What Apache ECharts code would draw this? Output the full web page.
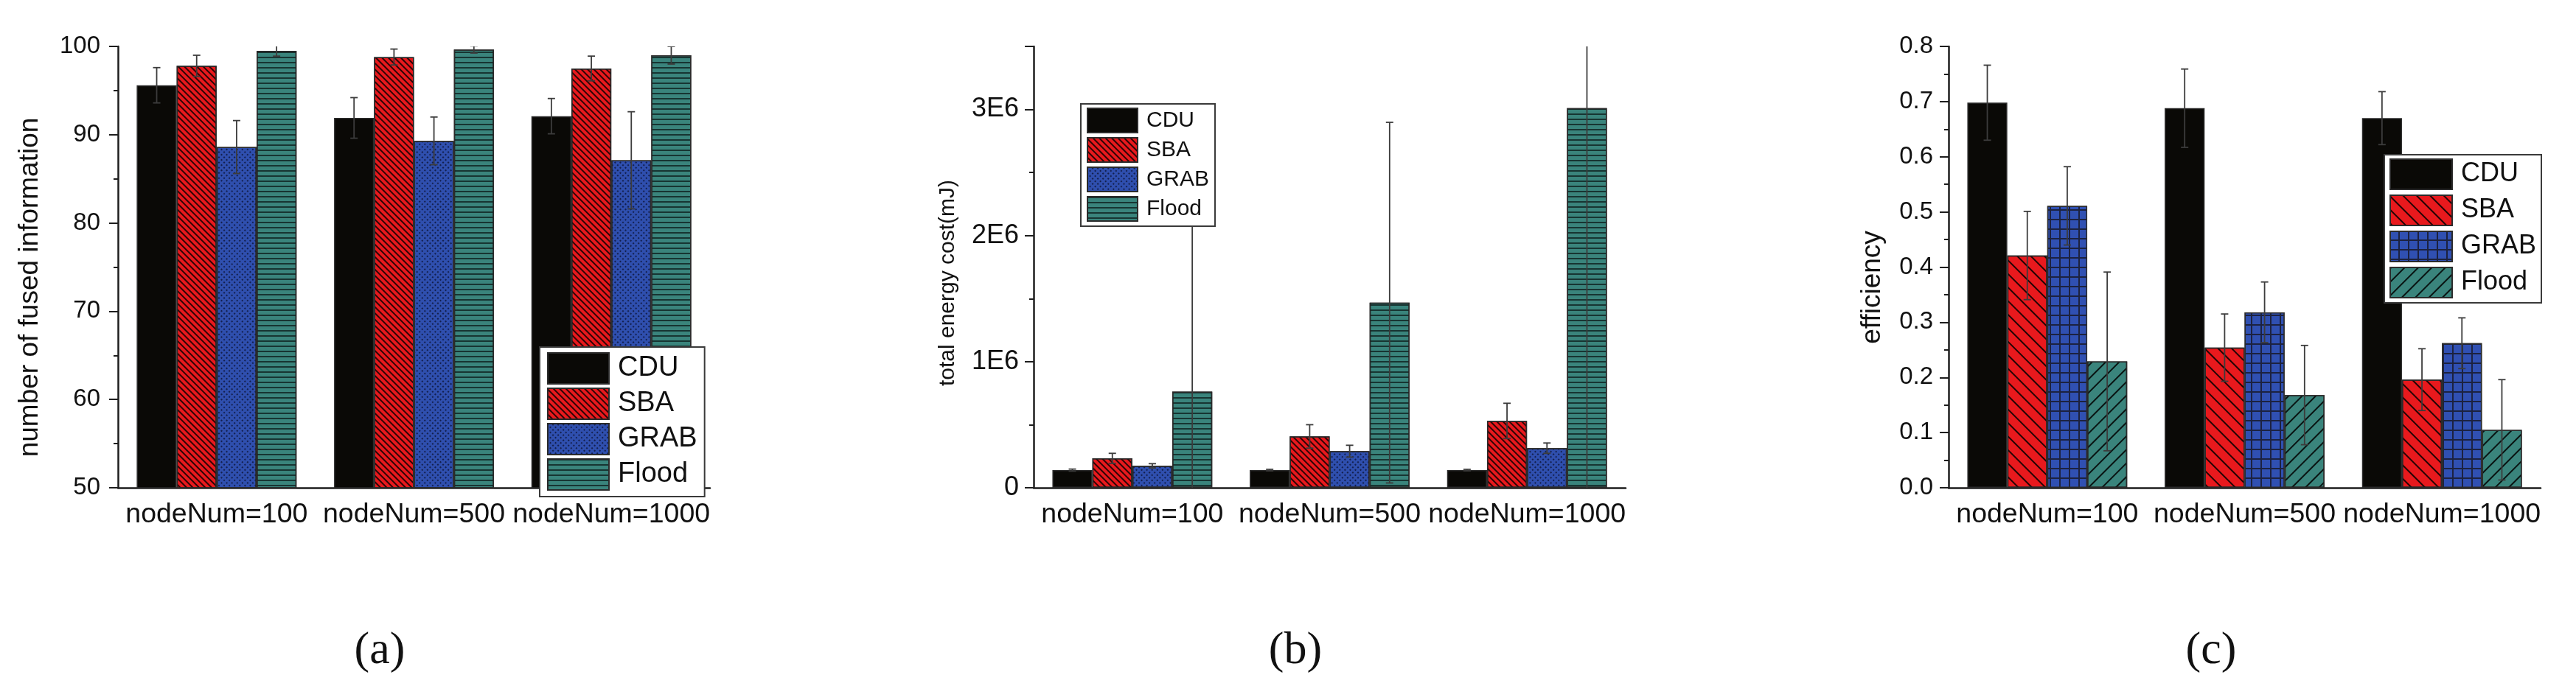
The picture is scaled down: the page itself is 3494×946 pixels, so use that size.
<!DOCTYPE html>
<html lang="en">
<head>
    <meta charset="UTF-8">
    <title>CDU / SBA / GRAB / Flood</title>
    <script src="https://cdn.jsdelivr.net/npm/echarts@6/dist/echarts.min.js"></script>
    <style>
        html, body { margin: 0; padding: 0; background: #fff; }
    </style>
</head>
<body>
    <div id="main" style="width: 3494px; height: 946px;"></div>
    <script>
        // data
        const categories = ['nodeNum=100', 'nodeNum=500', 'nodeNum=1000'];
        const methods = ['CDU', 'SBA', 'GRAB', 'Flood'];

        // (a) number of fused information, rows = methods, cols = categories
        const fusedMean = [[95.6, 91.9, 92.1], [97.8, 98.8, 97.5], [88.6, 89.3, 87.1], [99.5, 99.65, 99.0]];
        const fusedErr = [[2.0, 2.3, 2.0], [1.2, 0.9, 1.4], [3.0, 2.7, 5.5], [0.6, 0.4, 1.0]];

        // (b) total energy cost (mJ)
        const energyMean = [[0.14e6, 0.14e6, 0.14e6], [0.233e6, 0.407e6, 0.53e6], [0.174e6, 0.29e6, 0.314e6], [0.762e6, 1.468e6, 3.01e6]];
        const energyErr = [[0.008e6, 0.006e6, 0.006e6], [0.04e6, 0.093e6, 0.14e6], [0.017e6, 0.047e6, 0.041e6], [1.5e6, 1.43e6, 3.05e6]];

        // (c) efficiency
        const effMean = [[0.698, 0.688, 0.670], [0.421, 0.254, 0.196], [0.511, 0.318, 0.262], [0.229, 0.168, 0.105]];
        const effErr = [[0.068, 0.071, 0.048], [0.08, 0.061, 0.056], [0.071, 0.055, 0.046], [0.162, 0.09, 0.091]];

        const SANS = '"Liberation Sans", Arial, sans-serif';
        const SERIF = '"Liberation Serif", "Times New Roman", serif';
        const colors = ['#0a0906', '#e8191d', '#2f4fae', '#3a847c'];
        const gridLeft = [160, 1402, 2643];
        const CAT_GAP = 0.19;

        // hatch patterns: dense ones for (a)/(b), sparse ones for (c)
        const denseDecals = [
            null,
            { symbol: 'rect', symbolSize: 1, dashArrayX: [1, 0], dashArrayY: [1.5, 3.5], rotation: Math.PI / 4, color: 'rgba(0,0,0,0.8)' },
            { symbol: 'rect', symbolSize: 1, dashArrayX: [2, 2.5], dashArrayY: [2, 2.5], rotation: Math.PI / 4, color: 'rgba(10,15,45,0.75)' },
            { symbol: 'rect', symbolSize: 1, dashArrayX: [1, 0], dashArrayY: [2, 5], rotation: 0, color: 'rgba(0,0,0,0.6)' }
        ];
        const sparseDecals = [
            null,
            { symbol: 'rect', symbolSize: 1, dashArrayX: [1, 0], dashArrayY: [1.6, 11], rotation: Math.PI / 4, color: 'rgba(0,0,0,0.85)' },
            { symbol: 'rect', symbolSize: 1, dashArrayX: [10.5, 1.5], dashArrayY: [10.5, 1.5], rotation: 0, color: '#3050b2' },
            { symbol: 'rect', symbolSize: 1, dashArrayX: [1, 0], dashArrayY: [1.6, 11], rotation: -Math.PI / 4, color: 'rgba(0,0,0,0.85)' }
        ];

        const panels = [
            { key: 'a', mean: fusedMean, err: fusedErr, min: 50, max: 100, interval: 10, decals: denseDecals,
              label: v => String(v), tickFont: 33, margin: 24 },
            { key: 'b', mean: energyMean, err: energyErr, min: 0, max: 3.5e6, interval: 1e6, decals: denseDecals,
              label: v => (v === 0 ? '0' : (v / 1e6) + 'E6'), tickFont: 36, margin: 20 },
            { key: 'c', mean: effMean, err: effErr, min: 0, max: 0.8, interval: 0.1, decals: sparseDecals,
              label: v => v.toFixed(1), tickFont: 33, margin: 21 }
        ];

        const chart = echarts.init(document.getElementById('main'));

        const grids = [], xAxes = [], yAxes = [], series = [], legends = [];
        const axisColor = '#1e1e1e';

        panels.forEach((p, g) => {
            grids.push({ left: gridLeft[g], top: 63, width: 803, height: 599 });

            xAxes.push({
                type: 'category', gridIndex: g, data: categories, position: 'bottom',
                axisLine: { lineStyle: { color: axisColor, width: 2.5 } },
                axisTick: { alignWithLabel: true, length: 12, lineStyle: { color: axisColor, width: 2 } },
                axisLabel: { interval: 0, hideOverlap: false, fontSize: 37.5, fontFamily: SANS, color: '#111', margin: 18 }
            });
            // second axis only for the short ticks on the category boundaries
            xAxes.push({
                type: 'category', gridIndex: g, data: categories, position: 'bottom',
                axisLine: { show: false },
                axisTick: { length: 6, lineStyle: { color: axisColor, width: 2 } },
                axisLabel: { show: false }
            });

            yAxes.push({
                type: 'value', gridIndex: g, min: p.min, max: p.max, interval: p.interval,
                axisLine: { show: true, lineStyle: { color: axisColor, width: 2.5 } },
                axisTick: { show: true, length: 12, lineStyle: { color: axisColor, width: 2 } },
                minorTick: { show: true, splitNumber: 2, length: 6, lineStyle: { color: axisColor, width: 2 } },
                splitLine: { show: false },
                axisLabel: {
                    fontSize: p.tickFont, fontFamily: SANS, color: '#111', margin: p.margin,
                    showMaxLabel: g !== 1, formatter: p.label
                }
            });

            methods.forEach((m, k) => {
                series.push({
                    type: 'bar', name: p.key + ':' + m,
                    xAxisIndex: g * 2, yAxisIndex: g,
                    data: p.mean[k],
                    barGap: '0%', barCategoryGap: (CAT_GAP * 100) + '%',
                    itemStyle: {
                        // GRAB in (c) is a blue grid: dark fill showing through blue cells
                        color: (g === 2 && k === 2) ? '#1c2240' : colors[k],
                        borderColor: '#2b2b2b', borderWidth: 1.5,
                        decal: p.decals[k] || undefined
                    },
                    z: 2
                });
            });

            const errData = [];
            methods.forEach((m, k) => {
                categories.forEach((c, i) => errData.push([i, p.mean[k][i], p.err[k][i], k]));
            });
            series.push({
                type: 'custom', name: p.key + ':err',
                xAxisIndex: g * 2, yAxisIndex: g,
                clip: true, z: 3, silent: true,
                encode: { x: 0, y: 1 },
                data: errData,
                renderItem: function (params, api) {
                    const i = api.value(0), v = api.value(1), e = api.value(2), k = api.value(3);
                    const band = api.size([1, 0])[0];
                    const bw = band * (1 - CAT_GAP) / 4;
                    const cx = api.coord([i, v])[0] + (k - 1.5) * bw;
                    const yTop = api.coord([i, v + e])[1];
                    const yBot = api.coord([i, v - e])[1];
                    const cap = 5;
                    const st = { stroke: '#3c3c3c', lineWidth: 1.8 };
                    return {
                        type: 'group',
                        children: [
                            { type: 'line', shape: { x1: cx, y1: yTop, x2: cx, y2: yBot }, style: st },
                            { type: 'line', shape: { x1: cx - cap, y1: yTop, x2: cx + cap, y2: yTop }, style: st },
                            { type: 'line', shape: { x1: cx - cap, y1: yBot, x2: cx + cap, y2: yBot }, style: st }
                        ]
                    };
                }
            });
        });

        const legendBox = [
            { key: 'a', left: 732, top: 471, w: 83, h: 42, gap: 4, font: 38, pad: [7, 10, 8, 10], textW: 112 },
            { key: 'b', left: 1466, top: 141, w: 68, h: 33, gap: 5, font: 30, pad: [5, 8, 6, 8], textW: 92 },
            { key: 'c', left: 3234, top: 210, w: 84, h: 41, gap: 6, font: 36, pad: [5, 7, 6, 7], textW: 112 }
        ];
        legendBox.forEach(L => {
            legends.push({
                orient: 'vertical', left: L.left, top: L.top,
                data: methods.map(m => L.key + ':' + m),
                formatter: n => n.split(':')[1],
                icon: 'rect', itemWidth: L.w, itemHeight: L.h, itemGap: L.gap,
                padding: L.pad, backgroundColor: '#fff',
                borderColor: '#3a3a3a', borderWidth: 2,
                selectedMode: false, z: 10,
                textStyle: { fontSize: L.font, fontFamily: SANS, color: '#111', width: L.textW, padding: [0, 0, 0, 7] }
            });
        });

        const yNames = [
            { text: 'number of fused information', x: 41, y: 390, size: 37 },
            { text: 'total energy cost(mJ)', x: 1286, y: 384, size: 30 },
            { text: 'efficiency', x: 2540, y: 390, size: 37 }
        ];
        const panelTags = [
            { text: '(a)', x: 515 }, { text: '(b)', x: 1757 }, { text: '(c)', x: 2999 }
        ];
        const graphic = [];
        yNames.forEach(n => graphic.push({
            type: 'text', x: n.x, y: n.y, rotation: Math.PI / 2,
            style: { text: n.text, fontSize: n.size, fontFamily: SANS, fill: '#111', align: 'center', verticalAlign: 'middle' }
        }));
        panelTags.forEach(t => graphic.push({
            type: 'text', x: t.x, y: 884,
            style: { text: t.text, fontSize: 62, fontFamily: SERIF, fill: '#111', align: 'center', verticalAlign: 'middle' }
        }));

        chart.setOption({
            animation: false,
            backgroundColor: '#fff',
            grid: grids,
            xAxis: xAxes,
            yAxis: yAxes,
            legend: legends,
            graphic: graphic,
            series: series
        });
    </script>
</body>
</html>
